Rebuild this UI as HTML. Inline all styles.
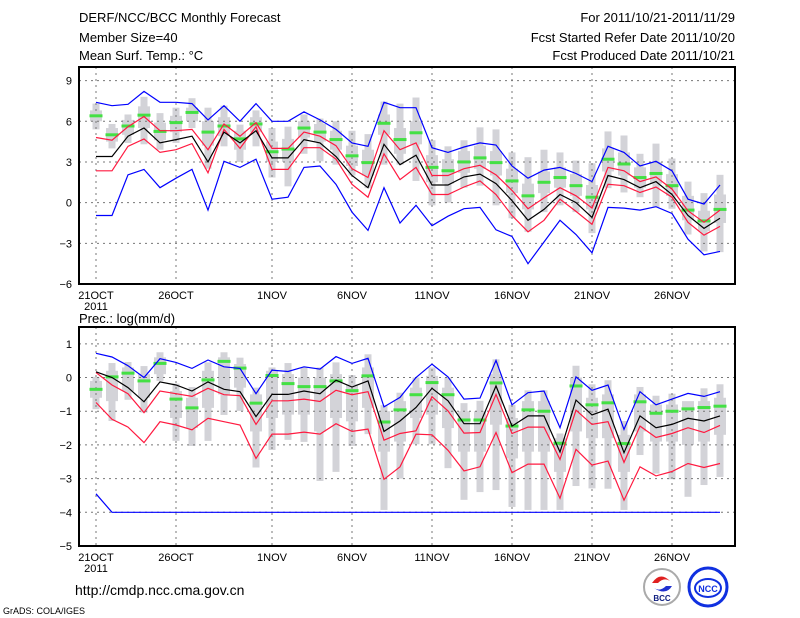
<!DOCTYPE html>
<html><head><meta charset="utf-8"><style>
body{margin:0;background:#fff;width:800px;height:618px;overflow:hidden;font-family:"Liberation Sans",sans-serif}
svg{position:absolute;left:0;top:0}
</style></head><body>
<svg id="c" width="800" height="618" xmlns="http://www.w3.org/2000/svg" font-family="Liberation Sans, sans-serif">
<text x="79" y="22" font-size="13">DERF/NCC/BCC Monthly Forecast</text>
<text x="79" y="42" font-size="13">Member Size=40</text>
<text x="79" y="60" font-size="13">Mean Surf. Temp.: °C</text>
<text x="735" y="22" font-size="13" text-anchor="end">For 2011/10/21-2011/11/29</text>
<text x="735" y="42" font-size="13" text-anchor="end">Fcst Started Refer Date 2011/10/20</text>
<text x="735" y="60" font-size="13" text-anchor="end">Fcst Produced Date 2011/10/21</text>
<text x="79" y="323" font-size="13">Prec.: log(mm/d)</text>
<text x="75" y="595" font-size="14">http://cmdp.ncc.cma.gov.cn</text>
<text x="3" y="614" font-size="9">GrADS: COLA/IGES</text>
<g>
<circle cx="662" cy="587" r="18" fill="#fff" stroke="#aaa" stroke-width="2"/>
<path d="M652 583 q8 -12 18 -2 q-6 -4 -12 2 z" fill="#e02020"/>
<path d="M672 586 q-6 10 -18 2 q6 4 12 -2 z" fill="#2030d0"/>
<text x="662" y="601" font-size="8" font-weight="bold" text-anchor="middle" fill="#102080">BCC</text>
</g>
<g>
<circle cx="708" cy="587" r="19" fill="#fff" stroke="#1030e0" stroke-width="3"/>
<ellipse cx="708" cy="588" rx="13" ry="9" fill="none" stroke="#1030e0" stroke-width="2"/>
<text x="708" y="592" font-size="9" font-weight="bold" text-anchor="middle" fill="#1030e0">NCC</text>
</g>
</svg>
<script>
const days=["21OCT","26OCT","1NOV","6NOV","11NOV","16NOV","21NOV","26NOV"];
const tMean=[3.4,3.4,4.9,5.5,4.4,4.65,4.9,3.0,5.2,4.4,5.3,3.3,3.3,4.65,4.4,3.4,2.0,1.1,4.3,2.8,3.5,1.3,1.3,1.9,2.1,1.4,0.15,-1.3,-0.5,0.6,0,-1.1,2.0,1.7,1.1,1.55,0.6,-0.95,-1.9,-1.15];
const tRedHi=[4.8,4.6,5.6,6.35,5.3,5.3,5.4,3.9,5.8,4.9,5.9,4.0,4.0,5.2,4.9,4.2,2.5,1.85,5.3,3.9,4.4,2.0,2.0,2.5,2.75,2.05,0.9,-0.45,0.35,1.1,0.5,-0.4,2.6,2.35,1.55,1.9,1.0,-0.6,-1.45,-0.55];
const tRedLo=[2.35,2.35,4.15,4.7,3.7,3.9,4.35,2.2,5.4,4.0,5.6,2.45,2.45,4.05,4.05,3.2,1.35,0.4,3.6,1.7,2.6,0.6,0.6,1.15,1.6,0.6,-0.95,-2.15,-1.3,0.25,-0.65,-1.6,1.35,1.25,0.75,1.15,0.4,-1.45,-2.4,-1.75];
const tBlueHi=[7.4,7.15,7.25,8.2,7.4,7.4,7.3,6.1,7.15,6.0,7.3,6.0,6.0,6.7,6.1,5.4,4.4,4.15,7.4,7.0,7.0,4.05,3.7,4.1,4.4,4.25,2.7,1.8,2.4,2.6,2.15,1.55,4.15,3.7,2.7,3.05,2.35,0.25,-0.1,1.3];
const tBlueLo=[-0.95,-0.95,2.05,2.45,1.1,1.8,2.45,-0.55,3.05,2.6,3.2,0.25,0.4,2.6,2.7,1.35,-0.7,-2.05,1.1,-1.5,-0.2,-1.7,-1.0,-0.45,-0.35,-2.0,-2.5,-4.5,-2.9,-1.3,-2.35,-3.7,-0.35,-0.4,-0.55,-0.3,-0.8,-2.7,-3.85,-3.6];
const tMed=[6.4,5.0,5.65,6.45,5.25,5.9,6.65,5.2,5.65,4.7,5.8,3.75,3.95,5.5,5.2,4.65,3.45,2.95,5.85,4.65,5.15,2.6,2.35,3.0,3.3,2.95,1.6,0.5,1.5,1.85,1.25,0.4,3.2,2.85,1.85,2.15,1.25,-0.55,-1.35,-0.5];
const tWHi=[7.3,5.8,6.5,7.8,6.6,7.0,7.7,7.0,7.15,5.75,6.8,5.5,5.6,6.5,6.2,6.0,5.3,5.05,7.45,7.3,7.75,4.6,4.15,4.6,5.55,5.4,3.7,3.35,3.9,3.7,3.1,2.9,5.25,4.95,3.6,4.35,3.25,1.55,0.7,2.05];
const tWLo=[5.4,4.0,4.4,4.3,3.9,4.4,5.5,2.5,4.15,3.0,4.15,1.85,1.2,3.6,3.05,2.8,2.0,1.07,2.8,2.8,1.6,-0.2,0.0,1.1,1.25,-0.2,-1.15,-2.15,-0.7,-0.2,-0.7,-2.25,1.07,0.75,0.4,-0.35,-0.45,-2.35,-3.6,-3.65];
const tBHi=[6.8,5.5,6.1,7.1,5.9,6.4,7.0,6.0,6.3,5.3,6.3,4.5,4.7,6.0,5.8,5.3,4.2,3.9,6.5,5.5,6.0,3.5,3.2,3.8,4.2,3.8,2.5,1.4,2.3,2.6,2.1,1.3,4.0,3.7,2.6,3.0,2.1,0.5,-0.6,0.6];
const tBLo=[6.0,4.5,5.0,5.5,4.6,5.2,6.0,4.2,4.9,3.9,5.2,3.0,3.0,4.8,4.5,3.9,2.7,2.0,5.0,3.6,4.3,1.5,1.4,2.2,2.5,2.0,0.7,-0.5,0.7,1.1,0.5,-0.5,2.3,2.0,1.1,1.4,0.5,-1.3,-2.1,-1.5];
const pMean=[0.17,0,-0.3,-0.72,-0.13,-0.22,-0.4,-0.13,-0.35,-0.42,-1.16,-0.5,-0.5,-0.4,-0.48,-0.08,-0.28,-0.1,-1.6,-1.29,-0.89,-0.32,-0.69,-1.37,-1.37,-0.25,-1.44,-1.14,-1.14,-2.21,-0.67,-1.11,-0.94,-2.23,-1.14,-1.49,-1.39,-1.21,-1.29,-1.14];
const pRedHi=[0.15,-0.22,-0.48,-1.04,-0.4,-0.48,-0.56,-0.32,-0.51,-0.54,-1.39,-0.69,-0.69,-0.64,-0.71,-0.38,-0.51,-0.42,-1.86,-1.66,-1.58,-0.57,-0.99,-1.65,-1.63,-0.5,-1.66,-1.47,-1.47,-2.43,-0.97,-1.39,-1.31,-2.52,-1.44,-1.78,-1.66,-1.49,-1.63,-1.42];
const pRedLo=[-0.74,-1.24,-1.47,-1.93,-1.31,-1.41,-1.55,-1.21,-1.31,-1.41,-2.4,-1.68,-1.68,-1.62,-1.68,-1.37,-1.6,-1.53,-3.02,-2.65,-1.68,-1.7,-2.16,-2.77,-2.65,-1.63,-2.82,-2.57,-2.57,-3.58,-2.13,-2.6,-2.48,-3.64,-2.65,-2.92,-2.79,-2.55,-2.67,-2.55];
const pBlueHi=[0.72,0.61,0.35,0,0.56,0.45,0.27,0.52,0.32,0.27,-0.48,0.22,0.18,0.32,0.25,0.62,0.42,0.57,-0.87,-0.59,0,0.4,0.02,-0.64,-0.61,0.51,-0.81,-0.45,-0.4,-1.49,0.02,-0.38,-0.22,-1.54,-0.42,-0.81,-0.64,-0.47,-0.56,-0.42];
const pBlueLo=[-3.45,-4,-4,-4,-4,-4,-4,-4,-4,-4,-4,-4,-4,-4,-4,-4,-4,-4,-4,-4,-4,-4,-4,-4,-4,-4,-4,-4,-4,-4,-4,-4,-4,-4,-4,-4,-4,-4,-4,-4];
const pMed=[-0.35,0.02,0.13,-0.1,0.42,-0.64,-0.9,-0.07,0.48,0.28,-0.76,0.06,-0.18,-0.27,-0.27,-0.1,-0.39,0.05,-1.32,-0.96,-0.51,-0.15,-0.51,-1.26,-1.26,-0.16,-1.44,-0.96,-1.0,-1.95,-0.25,-0.81,-0.75,-1.96,-0.72,-1.06,-1.0,-0.93,-0.89,-0.85];
const pWHi=[0.02,0.43,0.46,0.34,0.75,-0.18,-0.28,0.45,0.75,0.59,-0.3,0.3,0.43,0.3,0.3,0.45,0.07,0.69,-0.82,-0.45,0,0.3,0,-0.76,-0.69,0.54,-0.81,-0.38,-0.38,-1.66,0.35,-0.2,-0.08,-1.29,-0.28,-0.54,-0.48,-0.87,-0.32,-0.2];
const pWLo=[-0.94,-1.29,-0.66,-1.04,-0.1,-1.88,-2.03,-1.88,-1.11,-0.99,-2.67,-2.15,-1.85,-1.91,-3.07,-2.8,-2.03,-1.68,-3.93,-3.0,-1.98,-1.98,-2.69,-3.63,-3.4,-3.34,-3.84,-3.93,-3.93,-3.93,-3.22,-3.29,-3.3,-3.93,-2.3,-2.85,-3.02,-3.54,-3.19,-2.95];
const pBHi=[-0.1,0.2,0.3,0.1,0.6,-0.4,-0.6,0.2,0.6,0.4,-0.5,0.2,0.1,0,0,0.1,-0.2,0.3,-1.0,-0.7,-0.3,0.05,-0.3,-1.0,-1.0,0.1,-1.2,-0.7,-0.7,-1.8,0,-0.6,-0.5,-1.7,-0.5,-0.8,-0.8,-0.7,-0.7,-0.6];
const pBLo=[-0.6,-0.7,-0.4,-0.6,0.1,-1.2,-1.5,-0.9,-0.5,-0.3,-1.6,-1.2,-1.1,-1.1,-1.6,-1.2,-1.3,-0.9,-2.2,-1.9,-1.2,-1.1,-1.5,-2.2,-2.2,-1.4,-2.4,-2.2,-2.2,-2.8,-1.6,-1.8,-1.8,-2.8,-1.6,-1.9,-1.9,-2.0,-1.9,-1.7];
const tTicks=[9,6,3,0,-3,-6], pTicks=[1,0,-1,-2,-3,-4,-5];
const dayIdx=[0,5,11,16,21,26,31,36];

const NS="http://www.w3.org/2000/svg", svg=document.getElementById('c');
function mk(tag,attrs,parent){const e=document.createElementNS(NS,tag);for(const k in attrs)e.setAttribute(k,attrs[k]);(parent||svg).appendChild(e);return e;}
const xS=i=>96+16*i;
function panel(name,top,bottom,vmax,vmin,ticks,S){
  const y=v=>top+(vmax-v)/(vmax-vmin)*(bottom-top);
  const g=mk('g',{});
  
  
  // boxes
  S.wHi.forEach((_,i)=>{
    const w=mk('rect',{x:xS(i)-3.5,y:y(S.wHi[i]),width:7,height:y(S.wLo[i])-y(S.wHi[i]),fill:'#d3d3d8'},g);
    
    
    const b=mk('rect',{x:xS(i)-6,y:y(S.bHi[i]),width:12,height:y(S.bLo[i])-y(S.bHi[i]),fill:'#d3d3d8'},g);
    
    
  });
  // grid
  ticks.forEach(t=>{
    const l=mk('line',{x1:79,x2:735,y1:y(t),y2:y(t),stroke:'#777','stroke-dasharray':'2,4'},g);
    
    
    const tx=mk('text',{x:72,y:y(t)+4,'font-size':11,'text-anchor':'end'},g);
    tx.textContent=(t<0?'−':'')+Math.abs(t);
    
    
  });
  dayIdx.forEach((d,k)=>{
    const l=mk('line',{x1:xS(d),x2:xS(d),y1:top,y2:bottom,stroke:'#777','stroke-dasharray':'2,4'},g);
    
    
    const tx=mk('text',{x:xS(d),y:bottom+15,'font-size':11,'text-anchor':'middle'},g);
    tx.textContent=days[k];
    
    
  });
  const yr=mk('text',{x:96,y:bottom+26,'font-size':11,'text-anchor':'middle'},g);
  yr.textContent='2011';
  
  
  // medians
  S.med.forEach((v,i)=>{
    const m=mk('rect',{x:xS(i)-6.5,y:y(v)-1.5,width:13,height:3,fill:'#44e044'},g);
    
    
  });
  const lines=[[S.blueHi,'#0000ff','upper-max-line'],[S.blueLo,'#0000ff','lower-min-line'],[S.redHi,'#ff1a40','upper-std-line'],[S.redLo,'#ff1a40','lower-std-line'],[S.mean,'#000','ensemble-mean-line']];
  lines.forEach(([arr,c,n])=>{
    const p=mk('polyline',{points:arr.map((v,i)=>xS(i)+','+y(v).toFixed(1)).join(' '),fill:'none',stroke:c,'stroke-width':1.2},g);
    
    
  });
  const f=mk('rect',{x:79,y:top,width:656,height:bottom-top,fill:'none',stroke:'#000','stroke-width':2},g);
  
  
}
panel('temperature-panel',67,284,10,-6,tTicks,{wHi:tWHi,wLo:tWLo,bHi:tBHi,bLo:tBLo,med:tMed,blueHi:tBlueHi,blueLo:tBlueLo,redHi:tRedHi,redLo:tRedLo,mean:tMean});
panel('precip-panel',327,546,1.5,-5,pTicks,{wHi:pWHi,wLo:pWLo,bHi:pBHi,bLo:pBLo,med:pMed,blueHi:pBlueHi,blueLo:pBlueLo,redHi:pRedHi,redLo:pRedLo,mean:pMean});
</script>
</body></html>
